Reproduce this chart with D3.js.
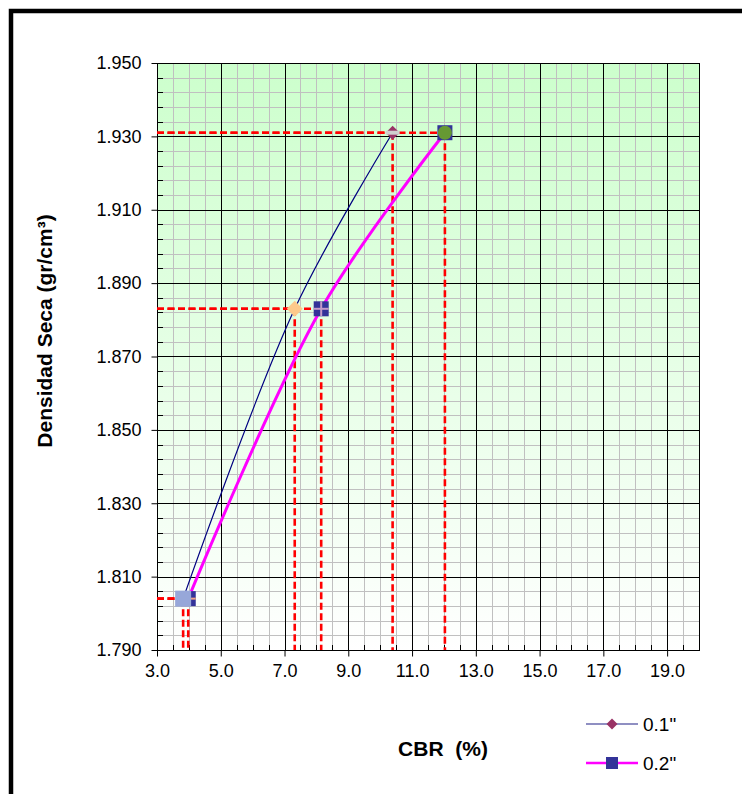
<!DOCTYPE html>
<html>
<head>
<meta charset="utf-8">
<script src="https://cdn.jsdelivr.net/npm/d3@7"></script>
<style>
  html, body { margin: 0; padding: 0; background: #fff; }
  svg { display: block; font-family: "Liberation Sans", Arial, sans-serif; }
</style>
</head>
<body>
<svg id="chart" width="742" height="794"></svg>
<script>
// ---- data ----
const seriesNames = ['0.1"', '0.2"'];
const cbr01 = [3.82, 7.32, 10.39];
const cbr02 = [3.98, 8.15, 12.03];
const densidad = [1.804, 1.883, 1.931];
const xTickValues = [3, 5, 7, 9, 11, 13, 15, 17, 19];
const yTickValues = [1.79, 1.81, 1.83, 1.85, 1.87, 1.89, 1.91, 1.93, 1.95];
const xDomain = [3, 20];
const yDomain = [1.79, 1.95];

// ---- layout ----
const W = 742, H = 794;
const margin = { top: 63, right: 43, bottom: 144, left: 157 };
const svg = d3.select('#chart');

const x = d3.scaleLinear().domain(xDomain).range([margin.left, W - margin.right]);
const y = d3.scaleLinear().domain(yDomain).range([H - margin.bottom, margin.top]);
const [x0, x1] = x.range();
const [y0, y1] = y.range(); // y0 bottom, y1 top

// outer border (cropped at right/bottom)
svg.append('rect').attr('x', 11).attr('y', 11).attr('width', 800).attr('height', 900)
  .attr('fill', 'none').attr('stroke', '#000').attr('stroke-width', 4.5);

// background gradient
const defs = svg.append('defs');
const grad = defs.append('linearGradient').attr('id', 'bg').attr('x1', 0).attr('y1', 0).attr('x2', 0).attr('y2', 1);
grad.append('stop').attr('offset', '0%').attr('stop-color', '#ccffcc');
grad.append('stop').attr('offset', '100%').attr('stop-color', '#ffffff');
svg.append('rect').attr('x', x0).attr('y', y1).attr('width', x1 - x0).attr('height', y0 - y1).attr('fill', 'url(#bg)');

// minor gridlines
const xMinor = d3.range(xDomain[0], xDomain[1] + 1e-9, 0.5);
const yMinor = d3.range(0, 41).map(i => yDomain[0] + i * 0.004);
const grid = svg.append('g');
grid.selectAll('.vxm').data(xMinor).join('line')
  .attr('x1', d => Math.round(x(d)) + 0.5).attr('x2', d => Math.round(x(d)) + 0.5)
  .attr('y1', y1).attr('y2', y0).attr('stroke', '#c0c0c0').attr('stroke-width', 1);
grid.selectAll('.hym').data(yMinor).join('line')
  .attr('y1', d => Math.round(y(d)) + 0.5).attr('y2', d => Math.round(y(d)) + 0.5)
  .attr('x1', x0).attr('x2', x1).attr('stroke', '#c0c0c0').attr('stroke-width', 1);
// major gridlines
grid.selectAll('.vx').data(xTickValues).join('line')
  .attr('x1', d => Math.round(x(d)) + 0.5).attr('x2', d => Math.round(x(d)) + 0.5)
  .attr('y1', y1).attr('y2', y0).attr('stroke', '#000').attr('stroke-width', 1);
grid.selectAll('.hy').data(yTickValues).join('line')
  .attr('y1', d => Math.round(y(d)) + 0.5).attr('y2', d => Math.round(y(d)) + 0.5)
  .attr('x1', x0).attr('x2', x1).attr('stroke', '#000').attr('stroke-width', 1);

// plot border
svg.append('rect').attr('x', x0 + 0.5).attr('y', y1 + 0.5).attr('width', x1 - x0).attr('height', y0 - y1)
  .attr('fill', 'none').attr('stroke', '#000').attr('stroke-width', 1);

// axes
const xAxis = svg.append('g').attr('transform', `translate(0,${y0 + 0.5})`)
  .call(d3.axisBottom(x).tickValues(xTickValues).tickFormat(d3.format('.1f')).tickSize(6).tickPadding(8));
const yAxis = svg.append('g').attr('transform', `translate(${x0 + 0.5},0)`)
  .call(d3.axisLeft(y).tickValues(yTickValues).tickFormat(d3.format('.3f')).tickSize(6).tickPadding(10));
[xAxis, yAxis].forEach(a => {
  a.select('.domain').remove();
  a.selectAll('text').attr('font-size', 18).attr('fill', '#000').attr('font-family', '"Liberation Sans", Arial, sans-serif');
  a.selectAll('line').attr('stroke', '#000');
});
// minor inside ticks
svg.append('g').selectAll('line').data(xMinor).join('line')
  .attr('x1', d => Math.round(x(d)) + 0.5).attr('x2', d => Math.round(x(d)) + 0.5)
  .attr('y1', y0).attr('y2', y0 - 5).attr('stroke', '#000');
svg.append('g').selectAll('line').data(yMinor).join('line')
  .attr('y1', d => Math.round(y(d)) + 0.5).attr('y2', d => Math.round(y(d)) + 0.5)
  .attr('x1', x0).attr('x2', x0 + 6).attr('stroke', '#000');

// dashed reference lines
const pts01 = cbr01.map((c, i) => [c, densidad[i]]);
const pts02 = cbr02.map((c, i) => [c, densidad[i]]);
const dashG = svg.append('g');
[pts01, pts02].forEach(pts => {
  pts.forEach(p => {
    dashG.append('line').attr('x1', x0).attr('x2', x(p[0])).attr('y1', y(p[1])).attr('y2', y(p[1]))
      .attr('stroke', '#ff0000').attr('stroke-width', 2.6).attr('stroke-dasharray', '7,3.5');
    dashG.append('line').attr('x1', x(p[0])).attr('x2', x(p[0])).attr('y1', y(p[1])).attr('y2', y0)
      .attr('stroke', '#ff0000').attr('stroke-width', 2.6).attr('stroke-dasharray', '7,3.5');
  });
});

// curves
const line = d3.line().x(d => x(d[0])).y(d => y(d[1])).curve(d3.curveCatmullRom.alpha(0.5));
svg.append('path').datum(pts01).attr('d', line).attr('fill', 'none').attr('stroke', '#000080').attr('stroke-width', 1.2);
svg.append('path').datum(pts02).attr('d', line).attr('fill', 'none').attr('stroke', '#ff00ff').attr('stroke-width', 3);

// markers
const mk = svg.append('g');
function square(p, size, fill) {
  mk.append('rect').attr('x', x(p[0]) - size / 2).attr('y', y(p[1]) - size / 2)
    .attr('width', size).attr('height', size).attr('fill', fill);
}
function diamond(p, w, h, fill) {
  const cx = x(p[0]), cy = y(p[1]);
  mk.append('path').attr('d', `M${cx},${cy - h / 2}L${cx + w / 2},${cy}L${cx},${cy + h / 2}L${cx - w / 2},${cy}Z`).attr('fill', fill);
}
function cross(p, size, color) {
  const cx = x(p[0]), cy = y(p[1]);
  mk.append('line').attr('x1', cx - size / 2).attr('x2', cx + size / 2).attr('y1', cy).attr('y2', cy)
    .attr('stroke', color).attr('stroke-width', 2);
  mk.append('line').attr('x1', cx).attr('x2', cx).attr('y1', cy - size / 2).attr('y2', cy + size / 2)
    .attr('stroke', color).attr('stroke-width', 2);
}
// series 0.2" markers
square(pts02[0], 15, '#333399');
cross(pts02[0], 15, '#f0a488');
square(pts02[1], 15, '#333399');
cross(pts02[1], 15, '#c59ac8');
square(pts02[2], 15, '#333399');
mk.append('circle').attr('cx', x(pts02[2][0])).attr('cy', y(pts02[2][1])).attr('r', 7).attr('fill', '#669933');
// series 0.1" markers
square(pts01[0], 16, '#97a7d9');
diamond(pts01[1], 16, 16, '#fdc98a');
diamond(pts01[2], 14, 14, '#993366');
mk.append('rect').attr('x', x(pts01[2][0]) - 7).attr('y', y(pts01[2][1]) - 2).attr('width', 14).attr('height', 4).attr('fill', '#cfcfcf');

// axis titles
svg.append('text').attr('x', 443).attr('y', 756).attr('text-anchor', 'middle')
  .attr('font-size', 21).attr('font-weight', 'bold').style('white-space', 'pre').text('CBR  (%)');
svg.append('text').attr('transform', 'translate(52,331) rotate(-90)').attr('text-anchor', 'middle')
  .attr('font-size', 21).attr('font-weight', 'bold').text('Densidad Seca (gr/cm³)');

// legend
const lg = svg.append('g');
const legendRows = [
  { y: 724, stroke: '#6a6aae', sw: 1.5, marker: 'diamond', fill: '#993366' },
  { y: 763, stroke: '#ff00ff', sw: 2.5, marker: 'square', fill: '#333399' }
];
legendRows.forEach((r, i) => {
  lg.append('line').attr('x1', 586).attr('x2', 638).attr('y1', r.y).attr('y2', r.y)
    .attr('stroke', r.stroke).attr('stroke-width', r.sw);
  if (r.marker === 'diamond') {
    lg.append('path').attr('d', `M612,${r.y - 5.5}L617.5,${r.y}L612,${r.y + 5.5}L606.5,${r.y}Z`).attr('fill', r.fill);
  } else {
    lg.append('rect').attr('x', 606).attr('y', r.y - 6).attr('width', 12).attr('height', 12).attr('fill', r.fill);
  }
  lg.append('text').attr('x', 643).attr('y', r.y + 7).attr('font-size', 19).text(seriesNames[i]);
});
</script>
</body>
</html>
